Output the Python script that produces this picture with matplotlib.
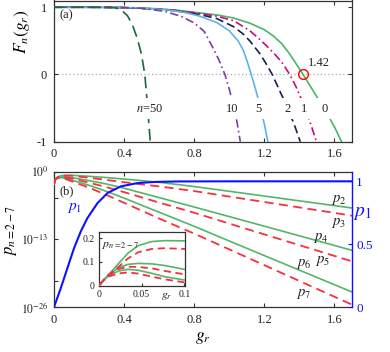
import matplotlib
matplotlib.use("Agg")
import matplotlib.pyplot as plt
import numpy as np

plt.rcParams['font.family'] = ['Liberation Serif', 'DejaVu Serif']
plt.rcParams['mathtext.fontset'] = 'stix'
plt.rcParams['axes.unicode_minus'] = False

# ---------------- data: panel (a)  F_n(g_r) ----------------
g_n0 = [0, 0.2, 0.4, 0.6, 0.7, 0.834, 0.93, 1.025, 1.12, 1.2, 1.25, 1.3, 1.34, 1.38, 1.421, 1.46, 1.5, 1.55, 1.6, 1.64]
F_n0 = [1, 1.0, 0.995, 0.975, 0.955, 0.915, 0.885, 0.84, 0.76, 0.665, 0.575, 0.455, 0.32, 0.165, 0, -0.165, -0.335, -0.55, -0.78, -1.0]

g_n1 = [0, 0.2, 0.4, 0.6, 0.7, 0.834, 0.93, 1.025, 1.12, 1.17, 1.215, 1.26, 1.3, 1.345, 1.38, 1.41, 1.44, 1.47, 1.497]
F_n1 = [1, 1.0, 0.995, 0.975, 0.952, 0.905, 0.866, 0.8, 0.645, 0.53, 0.42, 0.3, 0.18, 0.0, -0.18, -0.36, -0.56, -0.78, -1.0]

g_n2 = [0, 0.2, 0.4, 0.6, 0.7, 0.834, 0.93, 1.025, 1.08, 1.12, 1.177, 1.21, 1.245, 1.28, 1.31, 1.34, 1.37, 1.405]
F_n2 = [1, 1.0, 0.995, 0.97, 0.945, 0.89, 0.83, 0.71, 0.6, 0.49, 0.3, 0.16, 0.0, -0.2, -0.37, -0.55, -0.74, -1.0]

g_n5 = [0, 0.3, 0.5, 0.65, 0.75, 0.834, 0.93, 1.0, 1.05, 1.08, 1.105, 1.125, 1.15, 1.18, 1.2, 1.22]
F_n5 = [1, 0.998, 0.99, 0.96, 0.92, 0.865, 0.77, 0.65, 0.5, 0.36, 0.17, 0.0, -0.22, -0.52, -0.74, -1.0]

g_n10 = [0, 0.3, 0.5, 0.629, 0.724, 0.8, 0.857, 0.91, 0.94, 0.975, 1.0, 1.02, 1.04, 1.063]
F_n10 = [1, 0.999, 0.985, 0.94, 0.866, 0.766, 0.64, 0.38, 0.22, 0.0, -0.22, -0.42, -0.65, -1.0]

g_n50 = [0, 0.3, 0.343, 0.381, 0.419, 0.448, 0.476, 0.499, 0.518, 0.533, 0.549]
F_n50 = [1, 0.999, 0.995, 0.965, 0.875, 0.735, 0.53, 0.3, 0.0, -0.45, -1.0]

curve_labels = ['0', '1', '2', '5', '10', r'$n$=50']
label_g = [1.543, 1.429, 1.333, 1.168, 1.015, 0.543]
label_F = -0.51
g_zero = 1.42

# ---------------- data: panel (b) ----------------
g_p = [0.001, 0.005, 0.011, 0.023, 0.034, 0.046, 0.062, 0.077, 0.1, 0.2, 0.3, 0.4, 0.5, 0.6, 0.8, 1.0, 1.2, 1.4, 1.7]
p2 = [0.0045, 0.022, 0.045, 0.094, 0.137, 0.169, 0.186, 0.190, 0.189, 0.12, 0.069, 0.0355, 0.0178, 8.5e-3, 1.32e-3, 1.62e-4, 2.0e-5, 2.4e-6, 1.02e-7]
p3 = [0.0045, 0.022, 0.045, 0.080, 0.115, 0.141, 0.155, 0.158, 0.155, 0.063, 0.024, 8.9e-3, 3.5e-3, 1.41e-3, 1.78e-4, 1.58e-5, 1.45e-6, 1.32e-7, 3.5e-9]
p4 = [0.0045, 0.022, 0.045, 0.076, 0.090, 0.094, 0.092, 0.085, 0.069, 0.0178, 4.0e-3, 6.3e-4, 7.9e-5, 1.0e-5, 1.58e-7, 2.3e-9, 3.4e-11, 4.8e-13, 8.1e-16]
p5 = [0.0045, 0.022, 0.044, 0.070, 0.080, 0.079, 0.073, 0.062, 0.048, 7.1e-3, 1.0e-3, 1.12e-4, 1.12e-5, 1.12e-6, 1.26e-8, 1.07e-10, 9.1e-13, 7.9e-15, 6.3e-18]
p6 = [0.0045, 0.021, 0.042, 0.062, 0.069, 0.065, 0.052, 0.038, 0.024, 2.24e-3, 1.58e-4, 7.9e-6, 3.5e-7, 1.58e-8, 3.2e-11, 4.9e-14, 7.9e-17, 1.29e-19, 8.5e-24]
p7 = [0.0045, 0.021, 0.038, 0.052, 0.056, 0.051, 0.038, 0.027, 0.014, 7.9e-4, 3.2e-5, 1.0e-6, 3.2e-8, 1.0e-9, 1.26e-12, 1.23e-15, 1.15e-18, 1.1e-21, 3.2e-26]

g_p1 = [0, 0.01, 0.038, 0.076, 0.114, 0.152, 0.19, 0.248, 0.305, 0.381, 0.476, 0.571, 0.7, 1.0, 1.7]
p1 = [0, 0.04, 0.149, 0.309, 0.468, 0.60, 0.707, 0.827, 0.907, 0.96, 0.986, 0.995, 0.999, 1.0, 1.0]

pn_label_names = [r'$p_2$', r'$p_3$', r'$p_4$', r'$p_5$', r'$p_6$', r'$p_7$']
pn_label_g = [1.625, 1.625, 1.52, 1.53, 1.425, 1.425]
pn_label_y = [10**-5.4, 10**-9.9, 10**-12.7, 10**-17.1, 10**-17.8, 10**-23.5]

# ---------------- styling ----------------
GREEN = '#55b46a'
RED = '#f5303f'
BLUE = '#1010ff'
SPINE = '#333333'
W, H = 390, 352

fig = plt.figure(figsize=(3.9, 3.52), dpi=100)

def frac(x0, y0, x1, y1):
    return [x0 / W, 1 - y1 / H, (x1 - x0) / W, (y1 - y0) / H]

def style(ax, fs=9, xpad=4.5, ypad=5):
    for s in ax.spines.values():
        s.set_color(SPINE)
        s.set_linewidth(0.9)
    ax.tick_params(direction='in', length=3, width=0.8, colors=SPINE,
                   labelcolor='#222222', labelsize=fs)
    ax.tick_params(axis='x', pad=xpad)
    ax.tick_params(axis='y', pad=ypad)

# ---- panel (a) ----
ax1 = fig.add_axes(frac(54, 0.5, 352, 141.7))
style(ax1)
ax1.tick_params(top=True, right=True)
ax1.set_xlim(0, 1.7)
ax1.set_ylim(-1, 1.1)
ax1.set_xticks([0, 0.4, 0.8, 1.2, 1.6])
ax1.set_xticklabels(['0', '0.4', '0.8', '1.2', '1.6'])
ax1.set_yticks([-1, 0, 1])
ax1.set_yticklabels(['-1', '0', '1'])
ax1.axhline(0, color='#aaaaaa', ls=(0, (1, 2)), lw=0.9, zorder=1)

ax1.plot(g_n0, F_n0, color='#4fb36a', lw=1.2, zorder=3)
ax1.plot(g_n1, F_n1, color='#cc0a7a', lw=1.2, dashes=(5, 2, 1, 2), zorder=3)
ax1.plot(g_n2, F_n2, color='#1c1f4a', lw=1.2, dashes=(5, 2.5), zorder=3)
ax1.plot(g_n5, F_n5, color='#5bb5e8', lw=1.2, zorder=3)
ax1.plot(g_n10, F_n10, color='#7a3fa0', lw=1.2, dashes=(5, 2, 1, 2), zorder=3)
ax1.plot(g_n50, F_n50, color='#1a6b3a', lw=1.2, dashes=(7, 3.5), zorder=3)

for lab, gx in zip(curve_labels, label_g):
    ax1.text(gx, label_F, lab, ha='center', va='center', fontsize=9, color='#222222',
             zorder=5, bbox=dict(facecolor='white', edgecolor='none', pad=3.2))

ax1.plot([g_zero], [0], 'o', ms=7, mfc='none', mec='red', mew=1.0, zorder=6)
ax1.text(1.514, 0.17, '1.42', ha='center', va='center', fontsize=9, color='#222222')
ax1.text(0.072, 0.875, '(a)', ha='center', va='center', fontsize=9, color='#222222')
fig.text(22 / W, 1 - 32 / H, r'$F_n(g_r)$', rotation=90, ha='center', va='center', fontsize=12.5)

# ---- panel (b) ----
ax2 = fig.add_axes(frac(54, 171.5, 352, 307.3))
style(ax2)
ax2.tick_params(top=True, right=False)
ax2.tick_params(axis='y', labelsize=8.5, pad=4)
ax2.spines['right'].set_visible(False)
ax2.set_yscale('log')
ax2.set_xlim(0, 1.7)
ax2.set_ylim(1e-26, 1)
ax2.set_xticks([0, 0.4, 0.8, 1.2, 1.6])
ax2.set_xticklabels(['0', '0.4', '0.8', '1.2', '1.6'])
ax2.set_yticks([1, 1e-5, 1e-13, 1e-21, 1e-26])
ax2.set_yticklabels([r'$10^{0}$', '', r'$10^{-13}$', '', r'$10^{-26}$'])
ax2.yaxis.set_minor_locator(matplotlib.ticker.NullLocator())

for vals, col in zip([p2, p3, p4, p5, p6, p7], [GREEN, RED, GREEN, RED, GREEN, RED]):
    if col == GREEN:
        ax2.plot(g_p, vals, color=col, lw=1.2, zorder=3)
    else:
        ax2.plot(g_p, vals, color=col, lw=1.3, dashes=(5, 3), zorder=4)

for lab, gx, yy in zip(pn_label_names, pn_label_g, pn_label_y):
    ax2.text(gx, yy, lab, ha='center', va='center', fontsize=10.5, color='#222222')

ax2.text(0.072, 10**-3.8, '(b)', ha='center', va='center', fontsize=9, color='#222222')
ax2.set_xlabel(r'$g_r$', fontsize=12.5, labelpad=3)
fig.text(11 / W, 1 - 230 / H, r'$p_{n=2-7}$', rotation=90, ha='center', va='center', fontsize=12)

ax2r = ax2.twinx()
ax2r.set_ylim(0, 1.078)
for k, s in ax2r.spines.items():
    s.set_visible(k == 'right')
ax2r.spines['right'].set_color(BLUE)
ax2r.spines['right'].set_linewidth(1.0)
ax2r.tick_params(direction='in', length=3, width=0.8, colors=BLUE, labelcolor=BLUE, labelsize=9.5, pad=3)
ax2r.set_yticks([0, 0.5, 1])
ax2r.set_yticklabels(['0', '0.5', '1'])
ax2r.plot(g_p1, p1, color=BLUE, lw=1.5, zorder=5)
ax2r.text(0.118, 0.79, r'$p_1$', color=BLUE, ha='center', va='center', fontsize=11)
fig.text(362 / W, 1 - 213 / H, r'$p_1$', color=BLUE, ha='center', va='center', fontsize=14)

# ---- inset ----
axi = fig.add_axes(frac(99, 232.3, 185, 285.7))
style(axi, fs=7, xpad=3, ypad=3)
axi.tick_params(length=2)
axi.set_facecolor('white')
axi.set_xlim(0, 0.1008)
axi.set_ylim(0, 0.225)
axi.set_xticks([0, 0.05, 0.1])
axi.set_xticklabels(['0', '0.05', '0.1'])
axi.set_yticks([0, 0.1, 0.2])
axi.set_yticklabels(['0', '0.1', '0.2'])
for vals, col in zip([p2, p3, p4, p5, p6, p7], [GREEN, RED, GREEN, RED, GREEN, RED]):
    if col == GREEN:
        axi.plot(g_p, vals, color=col, lw=1.2, zorder=3)
    else:
        axi.plot(g_p, vals, color=col, lw=1.3, dashes=(4, 2.5), zorder=4)
axi.text(0.004, 0.172, r'$p_{n=2-7}$', ha='left', va='center', fontsize=8.5, color='#222222')
axi.text(0.079, -0.045, r'$g_r$', ha='center', va='center', fontsize=8.5, color='#222222', clip_on=False)

fig.savefig('out.png', dpi=100)
